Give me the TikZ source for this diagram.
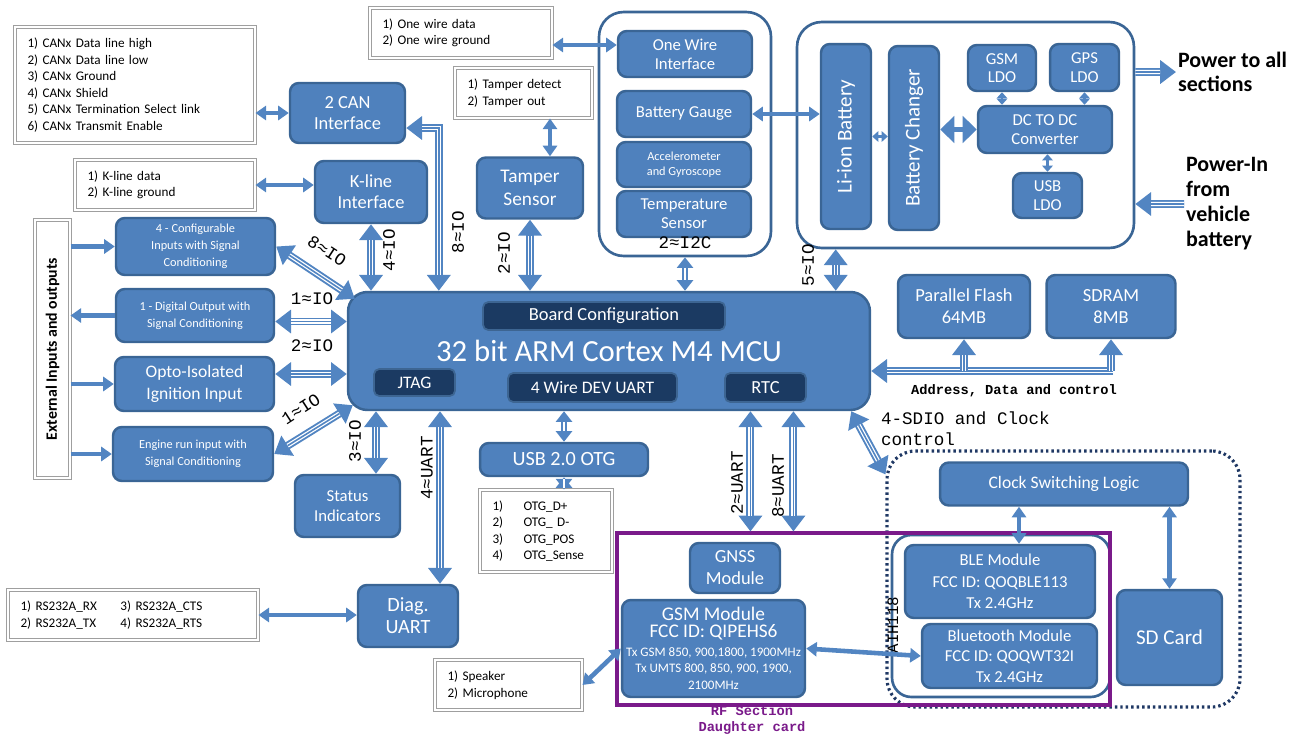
\documentclass[tikz,border=0pt]{standalone}
\usepackage{fontspec}
\setmainfont{Carlito}
\newfontfamily\monofont{Liberation Mono}
\usetikzlibrary{arrows.meta,calc}
\newcommand\fsz[2]{\fontsize{#1}{#2}\selectfont}
\definecolor{boxblue}{HTML}{4F81BD}
\definecolor{boxedge}{HTML}{3A6595}
\definecolor{navyfill}{HTML}{1B3A62}
\definecolor{navyedge}{HTML}{3D6592}
\definecolor{dotnavy}{HTML}{1F3864}
\definecolor{rfpurple}{HTML}{7A1A8A}
\definecolor{arrblue}{HTML}{5285C2}
\tikzset{
  blk/.style={draw=boxedge, line width=1.4pt, fill=boxblue, rounded corners=5pt, text=white, align=center, inner sep=0pt},
  sub/.style={draw=navyedge, line width=1pt, fill=navyfill, rounded corners=3pt, text=white, inner sep=0pt},
  frame/.style={draw=boxedge, line width=1.5pt, fill=white, rounded corners=14pt, inner sep=0pt},
  dotframe/.style={draw=dotnavy, line width=1.8pt, dash pattern=on 1.4pt off 1.7pt, rounded corners=16pt, inner sep=0pt},
  rfframe/.style={draw=rfpurple, line width=1.8pt, inner sep=0pt},
  legend/.style={draw=gray!75, line width=0.6pt, double=white, double distance=1.4pt, fill=white, align=left, inner xsep=0.25cm, inner ysep=0pt, font=\fsz{7.5}{9.4}},
  lbl/.style={font=\monofont\fsz{10}{11}, inner sep=1pt},
  link/.style={draw=arrblue, line width=2.6pt, arrows={Triangle[width=8pt,length=6pt]-Triangle[width=8pt,length=6pt]}},
  feed/.style={draw=arrblue, line width=2.6pt, arrows={-Triangle[width=8pt,length=6pt]}},
  minilink/.style={draw=arrblue, line width=1.6pt, arrows={Triangle[width=6pt,length=3.5pt]-Triangle[width=6pt,length=3.5pt]}},
  fatlink/.style={draw=arrblue, line width=3pt, arrows={Triangle[width=15pt,length=8pt]-Triangle[width=15pt,length=8pt]}},
  bus/.style={draw=arrblue, line width=4.5pt, arrows={Triangle[width=13pt,length=9pt]-Triangle[width=13pt,length=9pt]},
    postaction={draw=white, line width=0.7pt, double=arrblue, double distance=0.9pt, arrows=-, shorten <=9pt, shorten >=9pt}},
  busto/.style={draw=arrblue, line width=4.5pt, arrows={-Triangle[width=13pt,length=9pt]},
    postaction={draw=white, line width=0.7pt, double=arrblue, double distance=0.9pt, arrows=-, shorten >=9pt}},
  smallbus/.style={draw=arrblue, line width=3.4pt, arrows={Triangle[width=9pt,length=6pt]-Triangle[width=9pt,length=6pt]},
    postaction={draw=white, line width=0.9pt, arrows=-, shorten <=6pt, shorten >=6pt}}
}
\begin{document}
\begin{tikzpicture}[x=0.02cm, y=-0.02cm]
\useasboundingbox (0,0) rectangle (1298,738);

% frames
\node[frame, minimum width=3.44cm, minimum height=4.88cm] (owbox) at (685,134) {};
\node[frame, minimum width=6.74cm, minimum height=4.52cm] (pwrbox) at (965.5,135) {};
\node[dotframe, minimum width=7.06cm, minimum height=5.12cm] (wlbox) at (1063.5,579) {};
\node[frame, rounded corners=11pt, minimum width=4.36cm, minimum height=3.24cm] (btbox) at (1001,616) {};
\node[rfframe, minimum width=9.86cm, minimum height=3.44cm] (rf) at (863.5,619) {};

% legends
\node[legend, text width=4.3cm, minimum height=2.32cm] (canleg) at (135,85) {1) CANx Data line high\\2) CANx Data line low\\3) CANx Ground\\4) CANx Shield\\5) CANx Termination Select link\\6) CANx Transmit Enable};
\node[legend, text width=3.14cm, minimum height=1cm] (owleg) at (461,33) {1) One wire data\\2) One wire ground};
\node[legend, text width=2.24cm, minimum height=1cm] (tampleg) at (523.5,93) {1) Tamper detect\\2) Tamper out};
\node[legend, text width=3.1cm, minimum height=1cm] (kleg) at (165,185) {1) K-line data\\2) K-line ground};
\node[legend, text width=2.14cm, minimum height=1.64cm] (otgleg) at (546,531) {\makebox[0.62cm][l]{1)}OTG\_D+\\\makebox[0.62cm][l]{2)}OTG\_ D-\\\makebox[0.62cm][l]{3)}OTG\_POS\\\makebox[0.62cm][l]{4)}OTG\_Sense};
\node[legend, text width=4.5cm, minimum height=1cm] (rsleg) at (133,615) {\makebox[2cm][l]{1) RS232A\_RX}3) RS232A\_CTS\\\makebox[2cm][l]{2) RS232A\_TX}4) RS232A\_RTS};
\node[legend, text width=2.44cm, minimum height=1cm] (spkleg) at (508.5,685) {1) Speaker\\2) Microphone};
\node[legend, rotate=90, align=center, minimum width=5.16cm, minimum height=0.7cm, font=\bfseries\fsz{9}{10}] (ext) at (52.5,349) {External Inputs and outputs};

% left side blocks
\node[blk, minimum width=2.3cm, minimum height=1.2cm, font=\fsz{10.5}{12}] (can) at (347.5,113) {2 CAN\\Interface};
\node[blk, minimum width=2.24cm, minimum height=1.24cm, font=\fsz{10.5}{12}] (kline) at (371,192) {K-line\\Interface};
\node[blk, minimum width=2.12cm, minimum height=1.22cm, font=\fsz{11}{13}] (tamper) at (530,188) {Tamper\\Sensor};
\node[blk, minimum width=3.18cm, minimum height=1.14cm, font=\fsz{7}{9.6}] (cfgin) at (195.5,246.5) {4 - Configurable\\Inputs with Signal\\Conditioning};
\node[blk, minimum width=3.16cm, minimum height=1.06cm, font=\fsz{7}{9.6}] (digout) at (195,315.5) {1 - Digital Output with\\Signal Conditioning};
\node[blk, minimum width=3.18cm, minimum height=1.08cm, font=\fsz{10}{12.5}] (opto) at (194.5,384) {Opto-Isolated\\Ignition Input};
\node[blk, minimum width=3.2cm, minimum height=1.08cm, font=\fsz{7}{9.6}] (engine) at (193,454) {Engine run input with\\Signal Conditioning};
\node[blk, minimum width=2.1cm, minimum height=1.24cm, font=\fsz{9.5}{11}] (status) at (347.5,506) {Status\\Indicators};
\node[blk, minimum width=2cm, minimum height=1.24cm, font=\fsz{11.5}{12.5}] (diag) at (408,616) {Diag.\\UART};
\node[blk, minimum width=3.36cm, minimum height=0.66cm, font=\fsz{11.5}{13}] (usbotg) at (564,459.5) {USB 2.0 OTG};

% MCU
\node[blk, rounded corners=11pt, minimum width=10.44cm, minimum height=2.36cm, font=\fsz{17.5}{20}] (mcu) at (609,351) {32 bit ARM Cortex M4 MCU};
\node[sub, minimum width=4.84cm, minimum height=0.56cm, font=\fsz{10.5}{12}] (boardcfg) at (604,316) {Board Configuration};
\node[sub, minimum width=1.62cm, minimum height=0.54cm, font=\fsz{10}{12}] (jtag) at (414.5,382.5) {JTAG};
\node[sub, minimum width=3.38cm, minimum height=0.58cm, font=\fsz{10}{12}] (devuart) at (592.5,387.5) {4 Wire DEV UART};
\node[sub, minimum width=1.62cm, minimum height=0.58cm, font=\fsz{10.5}{12}] (rtc) at (765.5,387.5) {RTC};

% one wire group
\node[blk, minimum width=2.68cm, minimum height=0.92cm, font=\fsz{9.5}{10.8}] (onewire) at (685,54) {One Wire\\Interface};
\node[blk, minimum width=2.68cm, minimum height=0.92cm, font=\fsz{9.5}{11}] (batgauge) at (684,114) {Battery Gauge};
\node[blk, minimum width=2.68cm, minimum height=0.9cm, font=\fsz{7}{8.8}] (accel) at (684,164.5) {Accelerometer\\and Gyroscope};
\node[blk, minimum width=2.68cm, minimum height=0.92cm, font=\fsz{9.5}{10.6}] (temp) at (684,214) {Temperature\\Sensor};
\node[lbl] (i2clbl) at (685,243) {2≈I2C};

% power group
\node[blk, rotate=90, minimum width=3.7cm, minimum height=1cm, font=\fsz{12}{14}] (liion) at (846,136.5) {Li-ion Battery};
\node[blk, rotate=90, minimum width=3.68cm, minimum height=1cm, font=\fsz{12}{14}] (charger) at (914,138) {Battery Changer};
\node[blk, minimum width=1.36cm, minimum height=0.92cm, font=\fsz{9.5}{10.5}] (gsmldo) at (1002,68) {GSM\\LDO};
\node[blk, minimum width=1.38cm, minimum height=0.94cm, font=\fsz{9.5}{10.5}] (gpsldo) at (1084.5,67.5) {GPS\\LDO};
\node[blk, minimum width=2.68cm, minimum height=0.94cm, font=\fsz{9.5}{10.5}] (dcdc) at (1045,129.5) {DC TO DC\\Converter};
\node[blk, minimum width=1.38cm, minimum height=0.9cm, font=\fsz{9.5}{10.5}] (usbldo) at (1047.5,195.5) {USB\\LDO};
\node[anchor=west, align=left, inner sep=1pt, font=\bfseries\fsz{12.5}{14}] (pwrout) at (1176,72) {Power to all\\sections};
\node[anchor=west, align=left, inner sep=1pt, font=\bfseries\fsz{12.5}{14.2}] (pwrin) at (1184,204) {Power-In\\from\\vehicle\\battery};

% memory
\node[blk, minimum width=2.64cm, minimum height=1.26cm, font=\fsz{10.5}{12.4}] (flash) at (964,306.5) {Parallel Flash\\64MB};
\node[blk, minimum width=2.58cm, minimum height=1.26cm, font=\fsz{10.5}{12.4}] (sdram) at (1111,306.5) {SDRAM\\8MB};
\node[lbl, font=\monofont\bfseries\fsz{7.8}{9}] (addrlbl) at (1014,391) {Address, Data and control};
\node[lbl, anchor=north west, align=left, font=\monofont\fsz{10}{11.5}] (sdiolbl) at (879,410) {4-SDIO and Clock\\control};

% wireless and RF
\node[blk, minimum width=4.96cm, minimum height=0.86cm, font=\fsz{10}{12}] (clksw) at (1064,484) {Clock Switching Logic};
\node[blk, minimum width=3.8cm, minimum height=1.46cm, font=\fsz{9.5}{12.2}] (ble) at (1000,581.5) {BLE Module\\FCC ID: QOQBLE113\\Tx 2.4GHz};
\node[blk, minimum width=3.5cm, minimum height=1.28cm, font=\fsz{9.5}{11.6}] (bt) at (1009.5,656) {Bluetooth Module\\FCC ID: QOQWT32I\\Tx 2.4GHz};
\node[blk, minimum width=2.1cm, minimum height=1.9cm, font=\fsz{12}{14}] (sdcard) at (1169.5,637.5) {SD Card};
\node[blk, minimum width=1.8cm, minimum height=1cm, font=\fsz{10.5}{12.5}] (gnss) at (735,568) {GNSS\\Module};
\node[blk, minimum width=3.66cm, minimum height=1.94cm, font=\fsz{7.4}{9.5}] (gsm) at (713.5,648.5) {{\fsz{11}{13}GSM Module}\\{\fsz{11}{13}FCC ID: QIPEHS6}\\[1pt]Tx GSM 850, 900,1800, 1900MHz\\Tx UMTS 800, 850, 900, 1900,\\2100MHz};
\node[lbl, text=rfpurple, align=center, font=\monofont\bfseries\fsz{7.8}{9.6}] (rflbl) at (752,720) {RF Section\\Daughter card};
\node[lbl, rotate=90, font=\monofont\fsz{9}{10}] (aihlbl) at (893,625) {AIH118};

% legend links
\draw[link] (can.west -| canleg.east) -- (can.west);
\draw[link] ([yshift=-0.24cm]owleg.east) -- ([yshift=-0.24cm]owleg.east -| onewire.west);
\draw[link] ([xshift=0.4cm]tamper.north) -- ([xshift=0.4cm]tamper.north |- tampleg.south);
\draw[link] (kleg.east) -- (kleg.east -| kline.west);
\draw[link] (rsleg.east) -- (rsleg.east -| diag.west);
\draw[link] (spkleg.east) -- (gsm.west);
\draw[link] (batgauge.east) -- (batgauge.east -| liion.north);

% external inputs and outputs
\draw[feed] (cfgin.west -| ext.south) -- (cfgin.west);
\draw[feed] (digout.west) -- (digout.west -| ext.south);
\draw[feed] (opto.west -| ext.south) -- (opto.west);
\draw[feed] (engine.west -| ext.south) -- (engine.west);

% power internals
\draw[minilink] (liion.south) -- (liion.south -| charger.north);
\draw[fatlink] (charger.south |- dcdc.west) -- (dcdc.west);
\draw[minilink] (gsmldo.south) -- (gsmldo.south |- dcdc.north);
\draw[minilink] (gpsldo.south) -- (gpsldo.south |- dcdc.north);
\draw[minilink] (usbldo.north |- dcdc.south) -- (usbldo.north);
\draw[busto] ([yshift=1.26cm]pwrbox.east) -- (pwrout.west);
\draw[busto] (pwrin.west) -- ([yshift=-1.38cm]pwrbox.east);

% MCU buses
\draw[bus] ([yshift=-0.3cm]can.east) -| ([xshift=1.84cm]mcu.north west);
\node[lbl, rotate=90] (l8io) at (458,232) {8≈IO};
\draw[bus] (kline.south) -- (kline.south |- mcu.north);
\node[lbl, rotate=90] (l4io) at (389,250) {4≈IO};
\draw[bus] (tamper.south) -- (tamper.south |- mcu.north);
\node[lbl, rotate=90] (l2io) at (504,253) {2≈IO};
\draw[bus] (cfgin.east) -- ([shift={(0.16cm,-0.16cm)}]mcu.north west);
\node[lbl, rotate=-33] (l8iob) at (327,251) {8≈IO};
\draw[bus] ([yshift=-0.12cm]digout.east) -- ([yshift=-0.12cm]digout.east -| mcu.west);
\node[lbl] (l1io) at (312,299) {1≈IO};
\draw[bus] ([yshift=0.2cm]opto.east) -- ([yshift=0.2cm]opto.east -| mcu.west);
\node[lbl] (l2iob) at (312,346) {2≈IO};
\draw[bus] (engine.east) -- ([shift={(0.12cm,0.12cm)}]mcu.south west);
\node[lbl, rotate=33] (l1iob) at (301,409) {1≈IO};
\draw[bus] ([xshift=0.57cm]status.north) -- ([xshift=0.57cm]status.north |- mcu.south);
\node[lbl, rotate=90] (l3io) at (355,441) {3≈IO};
\draw[bus] ([xshift=0.64cm]diag.north) -- ([xshift=0.64cm]diag.north |- mcu.south);
\node[lbl, rotate=90] (l4uart) at (427,468) {4≈UART};
\draw[smallbus] (usbotg.north) -- (usbotg.north |- mcu.south);
\draw[smallbus] (usbotg.south) -- (usbotg.south |- otgleg.north);
\draw[bus] ([xshift=2.7cm]rf.north west) -- ([xshift=2.7cm]rf.north west |- mcu.south);
\node[lbl, rotate=90] (l2uart) at (737,483) {2≈UART};
\draw[bus] ([xshift=3.56cm]rf.north west) -- ([xshift=3.56cm]rf.north west |- mcu.south);
\node[lbl, rotate=90] (l8uart) at (778,486) {8≈UART};
\draw[smallbus] (owbox.south) -- (owbox.south |- mcu.north);
\draw[bus] ([xshift=0.8cm]pwrbox.south west) -- ([xshift=0.8cm]pwrbox.south west |- mcu.north);
\node[lbl, rotate=90] (l5io) at (808,265) {5≈IO};
\draw[bus] ([xshift=-0.4cm]mcu.south east) -- ([yshift=-0.5cm]wlbox.north west);

% memory bus
\coordinate (addrend) at (1113,371);
\draw[busto] (addrend) -- (addrend -| mcu.east);
\draw[busto] (flash.south |- addrend) -- (flash.south);
\draw[busto] (sdram.south |- addrend) -- (sdram.south);

% wireless links
\draw[link] ([xshift=0.38cm]ble.north) -- ([xshift=0.38cm]ble.north |- clksw.south);
\draw[link] (sdcard.north) -- (sdcard.north |- clksw.south);
\draw[link] (gsm.east) -- (bt.west);
\end{tikzpicture}
\end{document}
